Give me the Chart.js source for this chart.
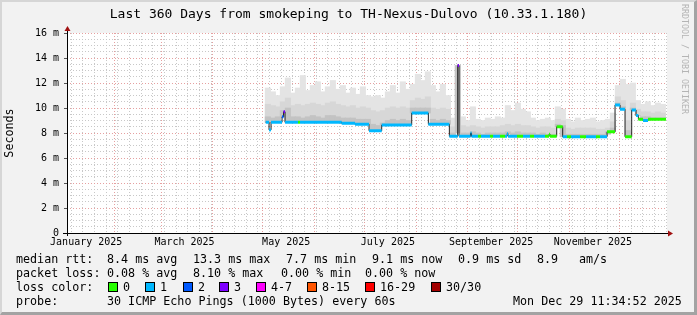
<!DOCTYPE html>
<html>
<head>
<meta charset="utf-8">
<script src="https://cdn.jsdelivr.net/npm/chart.js@4.4.1/dist/chart.umd.min.js"></script>
<style>
  html, body { margin: 0; padding: 0; background: #f2f2f2; }
  #wrap { position: relative; width: 697px; height: 315px; background: #f2f2f2; overflow: hidden;
          font-family: 'DejaVu Sans Mono', monospace; color: #000; }
  #frame { position: absolute; left: 0; top: 0; width: 697px; height: 315px; box-sizing: border-box;
           border-style: solid; border-width: 2px 3px 3px 2px;
           border-color: #d6d6d6 #a3a3a3 #a3a3a3 #d6d6d6; pointer-events: none; }
  canvas { position: absolute; left: 0; top: 0; }
  #title { position: absolute; left: 0; top: 6px; width: 697px; text-align: center;
           font-size: 13px; line-height: 15px; white-space: pre; }
  .row { position: absolute; left: 0; width: 697px; height: 14px; line-height: 14px;
         font-size: 11.7px; white-space: pre; }
  .row span { position: absolute; top: 0; }
  .box { position: absolute; width: 8px; height: 8px; border: 1px solid #000; }
  #credit { position: absolute; left: 680px; top: 4px; writing-mode: vertical-rl;
            font-size: 8.3px; color: #b4b4b4; white-space: pre; }
</style>
</head>
<body>
<div id="wrap">
  <canvas id="chart" width="697" height="315"></canvas>
  <div id="title">Last 360 Days from smokeping to TH-Nexus-Dulovo (10.33.1.180)</div>
  <div id="credit">RRDTOOL / TOBI OETIKER</div>
  <div class="row" style="top:252px">
    <span style="left:16px">median rtt:</span>
    <span style="left:107px">8.4 ms avg</span>
    <span style="left:193px">13.3 ms max</span>
    <span style="left:286px">7.7 ms min</span>
    <span style="left:372px">9.1 ms now</span>
    <span style="left:458px">0.9 ms sd</span>
    <span style="left:537px">8.9</span>
    <span style="left:579px">am/s</span>
  </div>
  <div class="row" style="top:266px">
    <span style="left:16px">packet loss:</span>
    <span style="left:107px">0.08 % avg</span>
    <span style="left:193px">8.10 % max</span>
    <span style="left:281px">0.00 % min</span>
    <span style="left:365px">0.00 % now</span>
  </div>
  <div class="row" id="lossRow" style="top:280px">
    <span style="left:16px">loss color:</span>
  </div>
  <div class="row" style="top:294px">
    <span style="left:16px">probe:</span>
    <span style="left:107px">30 ICMP Echo Pings (1000 Bytes) every 60s</span>
    <span style="left:513px">Mon Dec 29 11:34:52 2025</span>
  </div>
  <div id="frame"></div>
</div>
<script>
// x values are days since 1 Jan 2025 (last 360 days ending Dec 29 11:34)
const xMin = 2.48;
const xMax = 362.48;

// loss classes and their colours
const lossLabels = ['0', '1', '2', '3', '4-7', '8-15', '16-29', '30/30'];
const lossColors = ['#26ff00', '#00b8ff', '#0059ff', '#7e00ff', '#ff00ff', '#ff5500', '#ff0000', '#a10000'];
const lossBoxX = [108, 145, 183, 219, 256, 307, 365, 431];

// median rtt (ms) as steps: each value holds from its day until the next day
const medianDays = [121.7, 123.7, 124.9, 131.5, 132.4, 133.3, 141.1, 142.3, 167.3, 175.3,
  183.7, 191.3, 209.3, 219.3, 231.9, 236.9, 237.7, 244.6, 245.2, 249.1,
  250.9, 256.3, 258.1, 262.3, 265.3, 266.5, 267.1, 272.5, 276.1, 280.3,
  282.7, 289.3, 291.7, 292.3, 296.3, 299.9, 302.5, 304.9, 310.3, 313.9,
  319.9, 322.3, 326.5, 331.3, 334.3, 337.3, 341.3, 343.9, 345.3, 348.1, 351.1];
const medianMs = [8.86, 8.25, 8.86, 9.3, 9.7, 8.86, 8.86, 8.86, 8.78, 8.7,
  8.18, 8.64, 9.6, 8.7, 7.74, 13.4, 7.74, 8.0, 7.74, 7.74,
  7.74, 7.74, 7.74, 7.74, 7.74, 7.95, 7.74, 7.74, 7.74, 7.74,
  7.74, 7.74, 7.9, 7.74, 8.5, 7.7, 7.7, 7.7, 7.7, 7.7,
  7.7, 7.7, 8.1, 10.24, 9.9, 7.7, 9.84, 9.4, 9.1, 9.0, 9.1];
// index into lossColors for each step
const medianLoss = [1, 1, 1, 2, 3, 1, 0, 1, 1, 1,
  1, 1, 1, 1, 1, 3, 1, 1, 1, 0,
  1, 0, 1, 0, 1, 1, 1, 0, 1, 0,
  1, 0, 0, 0, 0, 1, 0, 1, 0, 1,
  0, 1, 0, 1, 1, 0, 1, 1, 0, 1, 0];
const medianEnd = 361.9;

// smoke (ms), one bin every 3 days starting at day 123
const smokeStart = 123;
const smokeStep = 3;
const smokeHi = [11.6, 11.3, 11.0, 11.7, 12.4, 11.2, 11.6, 12.6, 11.4, 11.8,
  12.1, 11.3, 11.7, 12.2, 11.5, 11.8, 11.2, 11.6, 11.1, 11.7,
  11.0, 10.9, 11.0, 10.8, 11.3, 11.8, 11.2, 12.1, 11.5, 11.9,
  12.7, 12.2, 12.9, 11.8, 11.3, 11.9, 11.0, 9.2, 9.1, 9.3,
  9.0, 10.1, 9.1, 9.0, 9.2, 9.1, 9.3, 9.2, 10.2, 9.8,
  10.4, 9.9, 9.7, 9.2, 9.0, 9.1, 9.2, 9.0, 10.1, 9.9,
  9.1, 8.9, 9.2, 9.0, 9.1, 9.2, 8.9, 9.0, 9.1, 9.6,
  11.8, 12.3, 11.9, 12.0, 10.6, 10.3, 10.5, 10.2, 10.4, 10.3];
const smokeMid = [10.3, 10.2, 10.1, 10.5, 10.8, 10.2, 10.3, 10.2, 10.3, 10.4,
  10.3, 10.2, 10.4, 10.5, 10.3, 10.2, 10.1, 10.2, 10.0, 10.1,
  10.0, 9.8, 9.7, 9.8, 10.0, 10.1, 10.0, 10.1, 10.0, 10.6,
  10.8, 10.7, 10.9, 10.0, 9.9, 10.0, 9.9, 8.5, 8.5, 8.6,
  8.5, 8.6, 8.5, 8.4, 8.5, 8.5, 8.5, 8.6, 8.7, 8.6,
  8.7, 8.6, 8.6, 8.5, 8.4, 8.5, 8.5, 8.4, 9.1, 9.0,
  8.4, 8.3, 8.4, 8.4, 8.4, 8.4, 8.3, 8.3, 8.4, 8.9,
  10.9, 10.6, 9.0, 10.4, 9.9, 9.7, 9.7, 9.6, 9.7, 9.6];
const smokeLow = [9.3, 9.2, 9.3, 9.8, 10.0, 9.3, 9.3, 9.2, 9.3, 9.4,
  9.3, 9.2, 9.4, 9.4, 9.3, 9.2, 9.2, 9.2, 9.1, 9.1,
  9.1, 8.7, 8.6, 8.8, 9.0, 9.1, 9.0, 9.1, 9.0, 10.0,
  10.0, 10.0, 10.0, 9.1, 9.0, 9.1, 9.0, 8.0, 8.0, 8.0,
  8.0, 8.1, 8.0, 7.9, 8.0, 8.0, 8.0, 8.0, 8.1, 8.0,
  8.1, 8.0, 8.0, 8.0, 7.9, 8.0, 7.9, 7.9, 8.7, 8.6,
  7.9, 7.9, 7.9, 7.9, 7.9, 7.9, 7.9, 7.9, 7.9, 8.4,
  10.4, 10.1, 8.2, 10.0, 9.4, 9.3, 9.3, 9.2, 9.2, 9.2];

// x axis: month starts (major grid), mondays (minor grid), labels at mid month
const monthStarts = [31, 59, 90, 120, 151, 181, 212, 243, 273, 304, 334];
const firstMonday = 5;
const labelDays = [14, 73, 134, 195, 257, 318];
const labelTexts = ['January 2025', 'March 2025', 'May 2025', 'July 2025', 'September 2025', 'November 2025'];

// y axis ticks every 0.5 ms, labelled every 2 ms
const yTicks = [];
for (let v = 0; v <= 16; v += 0.5) yTicks.push(v);

const mondays = [];
for (let d = firstMonday; d < xMax; d += 7) mondays.push(d);
const xTicks = [...new Set([...mondays, ...monthStarts, ...labelDays])].sort((a, b) => a - b);

function medianAt(day) {
  let v = medianMs[0];
  for (let i = 0; i < medianDays.length; i++) {
    if (medianDays[i] <= day) v = medianMs[i];
  }
  return v;
}

const smokeDays = smokeHi.map((_, i) => smokeStart + i * smokeStep);
const smokeBars = (tops) => smokeDays.map((d, i) => ({ x: d, y: [medianAt(d), tops[i]] }));

// dark median line (visible in the jumps)
const medianLine = medianDays.map((d, i) => ({ x: d, y: medianMs[i] }));
medianLine.push({ x: medianEnd, y: medianMs[medianMs.length - 1] });

// coloured horizontal pieces, one per step
const band = [];
const bandLoss = [];
medianDays.forEach((d, i) => {
  const next = i + 1 < medianDays.length ? medianDays[i + 1] : medianEnd;
  band.push({ x: d, y: medianMs[i] }, { x: next, y: medianMs[i] }, { x: next, y: null });
  bandLoss.push(medianLoss[i], medianLoss[i], medianLoss[i]);
});

// loss colour legend
const lossRow = document.getElementById('lossRow');
lossLabels.forEach((lbl, i) => {
  const b = document.createElement('div');
  b.className = 'box';
  b.style.left = lossBoxX[i] + 'px';
  b.style.top = '2px';
  b.style.background = lossColors[i];
  lossRow.appendChild(b);
  const s = document.createElement('span');
  s.style.left = (lossBoxX[i] + 15) + 'px';
  s.textContent = lbl;
  lossRow.appendChild(s);
});

const rrdFrame = {
  id: 'rrdFrame',
  beforeDraw(chart) {
    const { ctx, chartArea: a } = chart;
    ctx.save();
    ctx.fillStyle = '#ffffff';
    ctx.fillRect(a.left, a.top, a.right - a.left, a.bottom - a.top);
    ctx.restore();
  },
  afterDraw(chart) {
    const { ctx, chartArea: a } = chart;
    const x0 = Math.round(a.left) + 0.5;
    const y0 = Math.round(a.bottom) + 0.5;
    ctx.save();
    ctx.strokeStyle = '#000';
    ctx.lineWidth = 1;
    ctx.beginPath();
    ctx.moveTo(a.left - 4, y0); ctx.lineTo(a.right + 3, y0);
    ctx.moveTo(x0, a.bottom + 3); ctx.lineTo(x0, a.top - 4);
    ctx.stroke();
    ctx.fillStyle = '#a01010';
    ctx.beginPath();
    ctx.moveTo(x0, a.top - 7); ctx.lineTo(x0 - 3, a.top - 2); ctx.lineTo(x0 + 3, a.top - 2);
    ctx.closePath(); ctx.fill();
    ctx.beginPath();
    ctx.moveTo(a.right + 6, y0); ctx.lineTo(a.right + 1, y0 - 3); ctx.lineTo(a.right + 1, y0 + 3);
    ctx.closePath(); ctx.fill();
    ctx.restore();
  }
};

const minorGrid = '#c8c8c8';
const majorGrid = '#e6a0a0';
const monoFont = 'DejaVu Sans Mono';
// plot is 600 px wide for the whole range; one smoke bin spans smokeStep days
const binWidth = 600 / (xMax - xMin) * smokeStep + 0.4;
const smokeStyle = { type: 'bar', grouped: false, barThickness: binWidth, borderWidth: 0 };

new Chart(document.getElementById('chart'), {
  type: 'bar',
  data: {
    datasets: [
      { ...smokeStyle, data: smokeBars(smokeHi), backgroundColor: '#e4e4e4', order: 5 },
      { ...smokeStyle, data: smokeBars(smokeMid), backgroundColor: '#d7d7d7', order: 4 },
      { ...smokeStyle, data: smokeBars(smokeLow), backgroundColor: '#c3c3c3', order: 3 },
      { type: 'line', data: medianLine, stepped: true, borderColor: '#202020', borderWidth: 1,
        pointRadius: 0, order: 2 },
      { type: 'line', data: band, borderWidth: 3, borderCapStyle: 'butt', pointRadius: 0,
        spanGaps: false, order: 1,
        segment: { borderColor: (ctx) => lossColors[bandLoss[ctx.p0DataIndex]] } }
    ]
  },
  options: {
    responsive: false,
    animation: false,
    events: [],
    layout: { padding: { left: 0, top: 33, right: 30, bottom: 62 } },
    plugins: { legend: { display: false }, tooltip: { enabled: false } },
    scales: {
      x: {
        type: 'linear', min: xMin, max: xMax, offset: false, z: 1,
        afterBuildTicks: (scale) => { scale.ticks = xTicks.map(v => ({ value: v })); },
        afterFit: (scale) => { scale.height = 20; },
        grid: {
          offset: false, drawTicks: false, lineWidth: 1,
          color: (ctx) => {
            const v = ctx.tick && ctx.tick.value;
            if (monthStarts.includes(v)) return majorGrid;
            if (mondays.includes(v)) return minorGrid;
            return 'rgba(0,0,0,0)';
          }
        },
        border: { display: false, dash: [1, 2] },
        ticks: {
          autoSkip: false, maxRotation: 0, minRotation: 0, padding: 3, color: '#000',
          font: { family: monoFont, size: 10 },
          callback: (v) => { const i = labelDays.indexOf(v); return i >= 0 ? labelTexts[i] : ''; }
        }
      },
      y: {
        min: 0, max: 16, z: 1,
        afterBuildTicks: (scale) => { scale.ticks = yTicks.map(v => ({ value: v })); },
        afterFit: (scale) => { scale.width = 67; },
        grid: {
          lineWidth: 1, tickLength: 3,
          color: (ctx) => (ctx.tick && ctx.tick.value % 2 === 0) ? majorGrid : minorGrid,
          tickColor: (ctx) => (ctx.tick && ctx.tick.value % 2 === 0) ? '#555' : 'rgba(0,0,0,0)'
        },
        border: { display: false, dash: [1, 2] },
        ticks: {
          autoSkip: false, padding: 5, color: '#000',
          font: { family: monoFont, size: 10 },
          callback: (v) => v % 2 === 0 ? (v === 0 ? '0' : v + ' m') : ''
        },
        title: {
          display: true, text: 'Seconds', color: '#000',
          font: { family: monoFont, size: 11.7 }, padding: { top: 3, bottom: 0 }
        }
      }
    }
  },
  plugins: [rrdFrame]
});
</script>
</body>
</html>
